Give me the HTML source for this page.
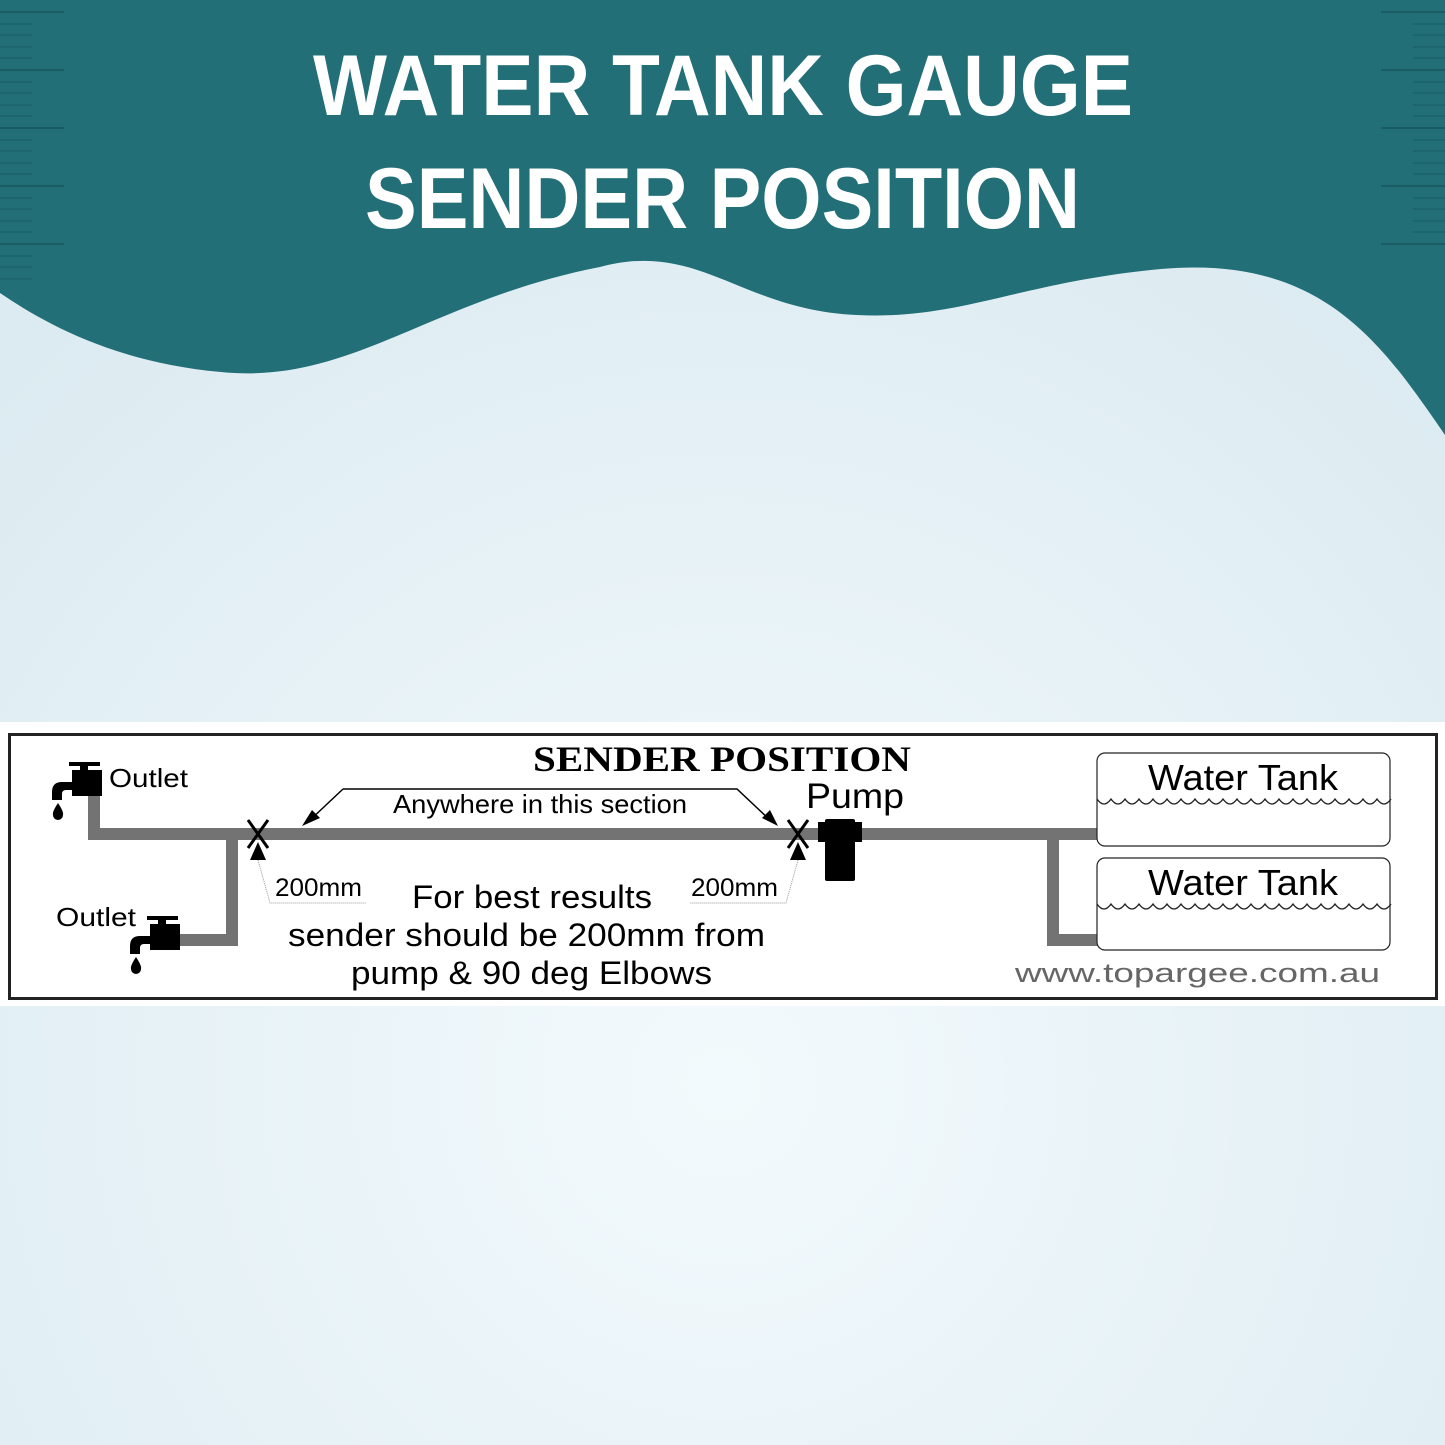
<!DOCTYPE html>
<html><head><meta charset="utf-8"><style>
html,body{margin:0;padding:0;}
body{width:1445px;height:1445px;overflow:hidden;background:#e9f3f7;}
svg{display:block}
</style></head><body>
<svg width="1445" height="1445" viewBox="0 0 1445 1445" xmlns="http://www.w3.org/2000/svg">
<defs>
<radialGradient id="bg" cx="0.5" cy="0.75" r="0.7">
<stop offset="0" stop-color="#f3fafd"/><stop offset="1" stop-color="#dcebf1"/>
</radialGradient>
</defs>
<rect width="1445" height="1445" fill="url(#bg)"/>
<path d="M0 0 H1445 V435 C1380 340 1320 255 1161 269 C1020 282 960 320 857 315 C740 310 700 240 600 267 C430 300 350 385 221 372 C110 362 40 320 0 293 Z" fill="#226f77"/>
<g stroke="#1a5c63" stroke-width="2">
<line x1="0" y1="12" x2="64" y2="12"/><line x1="0" y1="70" x2="64" y2="70"/><line x1="0" y1="128" x2="64" y2="128"/><line x1="0" y1="186" x2="64" y2="186"/><line x1="0" y1="244" x2="64" y2="244"/>
<line x1="1381" y1="12" x2="1445" y2="12"/><line x1="1381" y1="70" x2="1445" y2="70"/><line x1="1381" y1="128" x2="1445" y2="128"/><line x1="1381" y1="186" x2="1445" y2="186"/><line x1="1381" y1="244" x2="1445" y2="244"/>
</g>
<g stroke="#1a5c63" stroke-width="1">
<path d="M0 24H32M0 35H32M0 47H32M0 58H32M0 82H32M0 93H32M0 105H32M0 116H32M0 140H32M0 151H32M0 163H32M0 174H32M0 198H32M0 209H32M0 221H32M0 232H32M0 256H32M0 267H32M0 279H32"/>
<path d="M1413 24H1445M1413 35H1445M1413 47H1445M1413 58H1445M1413 82H1445M1413 93H1445M1413 105H1445M1413 116H1445M1413 140H1445M1413 151H1445M1413 163H1445M1413 174H1445M1413 198H1445M1413 209H1445M1413 221H1445M1413 232H1445"/>
</g>
<g fill="#fff" font-family="Liberation Sans, sans-serif" font-weight="bold" font-size="86">
<text x="313" y="115" textLength="820" lengthAdjust="spacingAndGlyphs">WATER TANK GAUGE</text>
<text x="365" y="228" textLength="715" lengthAdjust="spacingAndGlyphs">SENDER POSITION</text>
</g>

<rect x="0" y="722" width="1445" height="284" fill="#fff"/>
<rect x="9.5" y="734.5" width="1427" height="264" fill="#fff" stroke="#222" stroke-width="3"/>

<g fill="#737373">
<rect x="88" y="790" width="12" height="50"/>
<rect x="88" y="828" width="1010" height="12"/>
<rect x="226" y="828" width="12" height="118"/>
<rect x="175" y="934" width="63" height="12"/>
<rect x="1047" y="828" width="12" height="118"/>
<rect x="1047" y="934" width="51" height="12"/>
</g>
<g fill="#000">
<rect x="69" y="762" width="31" height="4"/><rect x="80" y="762" width="8" height="10"/>
<rect x="72" y="770" width="30" height="26"/>
<path d="M72 782 H62 Q52 782 52 792 V800 H62 V794 Q62 790 66 790 H72 Z"/>
<path d="M58 803 Q52 812 53 815 A5 5 0 0 0 63 815 Q64 812 58 803Z"/>
<rect x="147" y="916" width="31" height="4"/><rect x="158" y="916" width="8" height="10"/>
<rect x="150" y="924" width="30" height="26"/>
<path d="M150 936 H140 Q130 936 130 946 V954 H140 V948 Q140 944 144 944 H150 Z"/>
<path d="M136 957 Q130 966 131 969 A5 5 0 0 0 141 969 Q142 966 136 957Z"/>
</g>
<rect x="818" y="822" width="44" height="20" fill="#000"/>
<rect x="825" y="819" width="30" height="62" rx="2" fill="#000"/>

<g stroke="#000" stroke-width="3">
<path d="M248 820 L268 848 M268 820 L248 848"/>
<path d="M788 820 L808 848 M808 820 L788 848"/>
</g>
<g stroke="#000" stroke-width="1.5" fill="none">
<path d="M343 789 H737 L772 822"/>
<path d="M343 789 L308 822"/>
</g>
<polygon points="302,826 312,810 320,818" fill="#000"/>
<polygon points="778,826 762,818 770,810" fill="#000"/>
<polygon points="258,842 250,860 266,860" fill="#000"/>
<polygon points="798,842 790,860 806,860" fill="#000"/>
<g stroke="#999" stroke-width="1" fill="none" stroke-dasharray="1 1">
<path d="M258 860 L270 903 H366"/>
<path d="M798 860 L786 903 H690"/>
</g>

<g fill="#fff" stroke="#222" stroke-width="1.2">
<rect x="1097" y="753" width="293" height="93" rx="8"/>
<rect x="1097" y="858" width="293" height="92" rx="8"/>
</g>
<g stroke="#222" stroke-width="1.3" fill="none">
<path d="M1097 799 q7 10 14 0 q7 10 14 0 q7 10 14 0 q7 10 14 0 q7 10 14 0 q7 10 14 0 q7 10 14 0 q7 10 14 0 q7 10 14 0 q7 10 14 0 q7 10 14 0 q7 10 14 0 q7 10 14 0 q7 10 14 0 q7 10 14 0 q7 10 14 0 q7 10 14 0 q7 10 14 0 q7 10 14 0 q7 10 14 0 q7 10 14 0"/>
<path d="M1097 904 q7 10 14 0 q7 10 14 0 q7 10 14 0 q7 10 14 0 q7 10 14 0 q7 10 14 0 q7 10 14 0 q7 10 14 0 q7 10 14 0 q7 10 14 0 q7 10 14 0 q7 10 14 0 q7 10 14 0 q7 10 14 0 q7 10 14 0 q7 10 14 0 q7 10 14 0 q7 10 14 0 q7 10 14 0 q7 10 14 0 q7 10 14 0"/>
</g>

<g font-family="Liberation Sans, sans-serif" fill="#000">
<text x="109" y="787" font-size="26" textLength="79" lengthAdjust="spacingAndGlyphs">Outlet</text>
<text x="56" y="926" font-size="26" textLength="80" lengthAdjust="spacingAndGlyphs">Outlet</text>
<text x="393" y="813" font-size="26" textLength="294" lengthAdjust="spacingAndGlyphs">Anywhere in this section</text>
<text x="806" y="808" font-size="35" textLength="98" lengthAdjust="spacingAndGlyphs">Pump</text>
<text x="275" y="896" font-size="25" textLength="87" lengthAdjust="spacingAndGlyphs">200mm</text>
<text x="691" y="896" font-size="25" textLength="87" lengthAdjust="spacingAndGlyphs">200mm</text>
<text x="412" y="908" font-size="32" textLength="240" lengthAdjust="spacingAndGlyphs">For best results</text>
<text x="288" y="946" font-size="32" textLength="477" lengthAdjust="spacingAndGlyphs">sender should be 200mm from</text>
<text x="351" y="984" font-size="32" textLength="361" lengthAdjust="spacingAndGlyphs">pump &amp; 90 deg Elbows</text>
<text x="1243" y="790" font-size="36" text-anchor="middle" textLength="190" lengthAdjust="spacingAndGlyphs">Water Tank</text>
<text x="1243" y="895" font-size="36" text-anchor="middle" textLength="190" lengthAdjust="spacingAndGlyphs">Water Tank</text>
<text x="1015" y="982" font-size="27" fill="#666" textLength="365" lengthAdjust="spacingAndGlyphs">www.topargee.com.au</text>
<text x="722" y="771" font-size="36" font-weight="bold" font-family="Liberation Serif, serif" text-anchor="middle" textLength="378" lengthAdjust="spacingAndGlyphs">SENDER POSITION</text>
</g>
</svg>
</body></html>
